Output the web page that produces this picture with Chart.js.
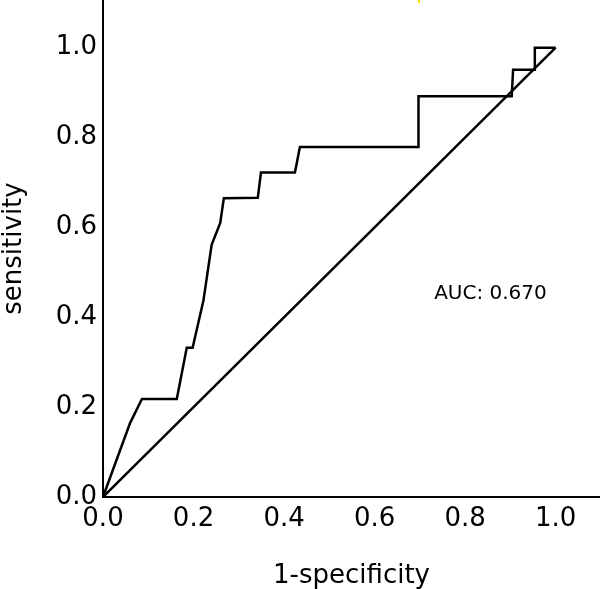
<!DOCTYPE html>
<html><head><meta charset="utf-8">
<script src="https://cdn.jsdelivr.net/npm/chart.js@4/dist/chart.umd.min.js"></script>
<style>html,body{margin:0;padding:0;background:#fff}canvas{display:block}</style>
</head><body>
<canvas id="c" width="600" height="589"></canvas>
<script>
// ROC curve points (1-specificity, sensitivity)
const rocFpr = [0, 0.060, 0.086, 0.163, 0.185, 0.198, 0.222, 0.240, 0.259, 0.267, 0.342, 0.349, 0.424, 0.435, 0.697, 0.697, 0.903, 0.906, 0.953, 0.954, 1.0];
const rocTpr = [0, 0.165, 0.218, 0.218, 0.332, 0.332, 0.438, 0.561, 0.610, 0.665, 0.666, 0.722, 0.722, 0.779, 0.779, 0.892, 0.892, 0.951, 0.951, 1.0, 1.0];
// reference (chance) line
const refFpr = [0, 1];
const refTpr = [0, 1];
// small yellow stroke at the top edge
const markFpr = [0.698, 0.698];
const markTpr = [1.099, 1.106];
const xTicks = [0, 0.2, 0.4, 0.6, 0.8, 1.0];
const yTicks = [0, 0.2, 0.4, 0.6, 0.8, 1.0];
const xTitle = '1-specificity';
const yTitle = 'sensitivity';
const aucLabel = 'AUC: 0.670';
const aucAt = [0.856, 0.452];

const toPts = (xs, ys) => xs.map((x, i) => ({x: x, y: ys[i]}));
const FONT = '"DejaVu Sans", Verdana, sans-serif';

const aucPlugin = {
  id: 'aucText',
  afterDatasetsDraw(chart) {
    const ctx = chart.ctx;
    const xs = chart.scales.x, ys = chart.scales.y;
    ctx.save();
    ctx.font = '20px ' + FONT;
    ctx.fillStyle = '#000';
    ctx.textAlign = 'center';
    ctx.textBaseline = 'middle';
    ctx.fillText(aucLabel, xs.getPixelForValue(aucAt[0]), ys.getPixelForValue(aucAt[1]));
    ctx.restore();
  }
};

new Chart(document.getElementById('c'), {
  type: 'scatter',
  data: {
    datasets: [
      {data: toPts(rocFpr, rocTpr), showLine: true, borderColor: '#000', borderWidth: 2.5, pointRadius: 0, tension: 0, fill: false},
      {data: toPts(refFpr, refTpr), showLine: true, borderColor: '#000', borderWidth: 2.5, pointRadius: 0, tension: 0, fill: false},
      {data: toPts(markFpr, markTpr), showLine: true, borderColor: '#f2e200', borderWidth: 2, pointRadius: 0, tension: 0, fill: false}
    ]
  },
  options: {
    responsive: false,
    animation: false,
    devicePixelRatio: 1,
    layout: {padding: 0},
    plugins: {legend: {display: false}, tooltip: {enabled: false}},
    scales: {
      x: {
        type: 'linear', min: 0, max: 1.098,
        grid: {display: false, drawTicks: false},
        border: {display: true, color: '#000', width: 2},
        afterBuildTicks: s => { s.ticks = xTicks.map(v => ({value: v})); },
        afterFit: s => { s.height = 92; s.paddingLeft = 0; s.paddingRight = 0; },
        ticks: {padding: 7, color: '#000', font: {family: FONT, size: 26}, callback: v => v.toFixed(1), maxRotation: 0, autoSkip: false},
        title: {display: true, text: xTitle, color: '#000', font: {family: FONT, size: 26}, padding: {top: 0, bottom: -3}}
      },
      y: {
        type: 'linear', min: 0, max: 1.106,
        grid: {display: false, drawTicks: false},
        border: {display: true, color: '#000', width: 2},
        afterBuildTicks: s => { s.ticks = yTicks.map(v => ({value: v})); },
        afterFit: s => { s.width = 103; s.paddingTop = 0; s.paddingBottom = 0; },
        ticks: {padding: 6, color: '#000', font: {family: FONT, size: 26}, callback: v => v.toFixed(1), autoSkip: false},
        title: {display: true, text: yTitle, color: '#000', font: {family: FONT, size: 26}, padding: {top: -1, bottom: 0}}
      }
    }
  },
  plugins: [aucPlugin]
});
</script>
</body></html>
